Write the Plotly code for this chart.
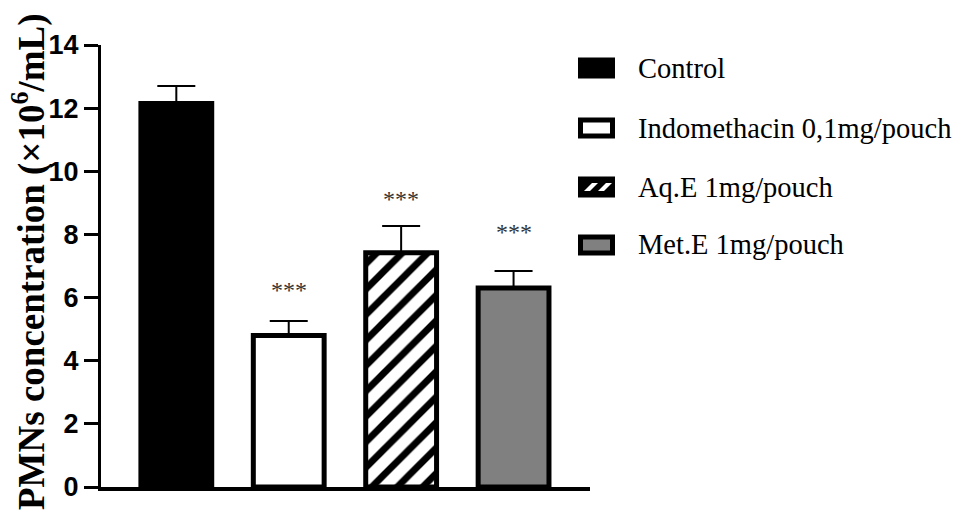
import plotly.graph_objects as go

# PMN counts in the pouch exudate (mean + SEM, x10^6 cells/mL)
groups = ["Control", "Indomethacin 0,1mg/pouch", "Aq.E 1mg/pouch", "Met.E 1mg/pouch"]
means = [12.15, 4.80, 7.42, 6.30]
sems = [0.55, 0.46, 0.85, 0.54]
significance = ["", "***", "***", "***"]
y_ticks = [0, 2, 4, 6, 8, 10, 12, 14]

W, H = 968, 524
L, R, T, B = 101, 590, 45, 487  # plot area edges in pixels

fills = ["black", "white", "white", "#808080"]
patterns = [None, None,
            dict(shape="/", fgcolor="black", bgcolor="white", fgopacity=1,
                 fillmode="replace", size=18, solidity=0.38),
            None]

fig = go.Figure()
for i, g in enumerate(groups):
    marker = dict(color=fills[i], line=dict(color="black", width=5))
    if patterns[i]:
        marker["pattern"] = patterns[i]
    fig.add_trace(go.Bar(
        x=[g], y=[means[i]], width=0.63, marker=marker, showlegend=False,
        error_y=dict(type="data", symmetric=False, array=[sems[i]], arrayminus=[0],
                     color="black", thickness=2, width=19),
    ))


def fx(px):
    return (px - L) / (R - L)


def fy(py):
    return (B - py) / (B - T)


# significance stars above the error bars
star_gap = [0, 16, 12, 24]
annotations = []
for i, g in enumerate(groups):
    if significance[i]:
        annotations.append(dict(
            x=g, y=means[i] + sems[i], xref="x", yref="y", text=significance[i],
            showarrow=False, yanchor="bottom", yshift=star_gap[i],
            font=dict(family="Liberation Serif", size=24, color="#333333"),
        ))

# y-axis title
annotations.append(dict(
    x=fx(29), y=fy(262), xref="paper", yref="paper", textangle=-90,
    text="<b>PMNs concentration (×10<sup>6</sup>/mL)</b>", showarrow=False,
    xanchor="center", yanchor="middle",
    font=dict(family="Liberation Serif", size=37, color="black"),
))

# legend drawn by hand
row_y = [68, 128, 187, 245]
sx0, sx1, sh = 578, 615, 21
shapes = []
for i, g in enumerate(groups):
    c = row_y[i]
    y0, y1 = c - sh / 2, c + sh / 2
    if i == 0:
        shapes.append(dict(type="rect", xref="paper", yref="paper",
                           x0=fx(sx0), x1=fx(sx1), y0=fy(y1), y1=fy(y0),
                           fillcolor="black", line=dict(width=0)))
    elif i == 2:
        shapes.append(dict(type="rect", xref="paper", yref="paper",
                           x0=fx(sx0), x1=fx(sx1), y0=fy(y1), y1=fy(y0),
                           fillcolor="black", line=dict(width=0)))
        for a in (584, 598):
            yb, yt = c + 4, c - 4
            path = "M {} {} L {} {} L {} {} L {} {} Z".format(
                fx(a), fy(yb), fx(a + 8), fy(yt), fx(a + 14), fy(yt), fx(a + 6), fy(yb))
            shapes.append(dict(type="path", xref="paper", yref="paper", path=path,
                               fillcolor="white", line=dict(width=0)))
    else:
        shapes.append(dict(type="rect", xref="paper", yref="paper",
                           x0=fx(sx0 + 2.5), x1=fx(sx1 - 2.5), y0=fy(y1 - 2.5), y1=fy(y0 + 2.5),
                           fillcolor=fills[i], line=dict(color="black", width=5)))
    annotations.append(dict(
        x=fx(636), y=fy(c), xref="paper", yref="paper", text=g, showarrow=False,
        xanchor="left", yanchor="middle",
        font=dict(family="Liberation Serif", size=28.5, color="black"),
    ))

fig.update_layout(
    width=W, height=H,
    margin=dict(l=L, r=W - R, t=T, b=H - B, pad=0),
    plot_bgcolor="white", paper_bgcolor="white",
    barmode="overlay",
    annotations=annotations, shapes=shapes,
    xaxis=dict(type="category", range=[-0.67, 3.68], showticklabels=False, ticks="",
               showline=True, linecolor="black", linewidth=4, showgrid=False, zeroline=False,
               fixedrange=True),
    yaxis=dict(range=[0, 14], tickvals=y_ticks, ticks="outside", ticklen=14, tickwidth=3,
               tickcolor="black", showline=True, linecolor="black", linewidth=3,
               showgrid=False, zeroline=False,
               tickfont=dict(family="Liberation Sans", size=27, color="black", weight="bold")),
)

fig.write_html("out.html")
